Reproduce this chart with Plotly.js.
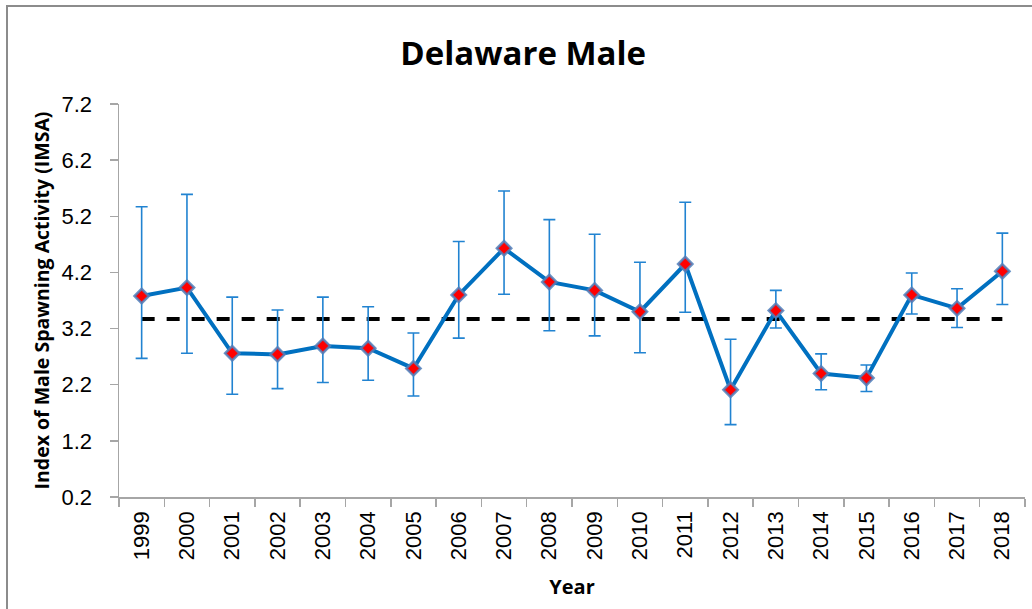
<!DOCTYPE html>
<html>
<head>
<meta charset="utf-8">
<script src="https://cdn.plot.ly/plotly-3.0.1.min.js"></script>
<style>
  html, body { margin: 0; padding: 0; background: #fff; }
  #wrap { position: relative; width: 1032px; height: 609px; }
  #chart { position: absolute; left: 0; top: 0; width: 1032px; height: 609px; }
  #frame { position: absolute; left: 6px; top: 5px; width: 1040px; height: 620px;
           border-left: 2.5px solid #8c8c8c; border-top: 2.5px solid #8c8c8c; pointer-events: none; }
</style>
</head>
<body>
<div id="wrap">
  <div id="chart"></div>
  <div id="frame"></div>
</div>
<script>
const years = ["1999","2000","2001","2002","2003","2004","2005","2006","2007","2008",
               "2009","2010","2011","2012","2013","2014","2015","2016","2017","2018"];
const imsa  = [3.78, 3.93, 2.76, 2.74, 2.89, 2.85, 2.49, 3.80, 4.63, 4.03,
               3.88, 3.50, 4.35, 2.11, 3.52, 2.40, 2.32, 3.80, 3.56, 4.22];
const upper = [5.37, 5.59, 3.76, 3.53, 3.76, 3.59, 3.12, 4.75, 5.65, 5.14,
               4.88, 4.38, 5.45, 3.01, 3.88, 2.75, 2.55, 4.19, 3.91, 4.90];
const lower = [2.67, 2.76, 2.03, 2.13, 2.24, 2.28, 2.00, 3.03, 3.81, 3.16,
               3.07, 2.77, 3.49, 1.49, 3.21, 2.11, 2.08, 3.46, 3.22, 3.63];
const meanValue = 3.37;
const meanLine = years.map(() => meanValue);

const errPlus = imsa.map((v, i) => upper[i] - v);
const errMinus = imsa.map((v, i) => v - lower[i]);

const traces = [
  {
    x: years, y: meanLine, type: "scatter", mode: "lines",
    line: { color: "#000000", width: 4, dash: "13px,12px" },
    hoverinfo: "skip", showlegend: false
  },
  {
    x: years, y: imsa, type: "scatter", mode: "lines+markers",
    line: { color: "#0070C0", width: 4 },
    marker: { symbol: "diamond", size: 11, color: "#FF0000",
              line: { color: "rgba(79,129,189,0.85)", width: 2.5 } },
    error_y: { type: "data", symmetric: false, array: errPlus, arrayminus: errMinus,
               color: "#2183D1", thickness: 1.6, width: 6 },
    showlegend: false
  }
];

const layout = {
  width: 1032, height: 609,
  margin: { l: 119, r: 7, t: 104, b: 112 },
  paper_bgcolor: "#ffffff", plot_bgcolor: "#ffffff",
  showlegend: false,
  title: {
    text: "<b>Delaware Male</b>",
    font: { family: "Open Sans, Liberation Sans, sans-serif", size: 33, color: "#000" },
    x: 0.507, xanchor: "center", y: 0.912, yanchor: "middle"
  },
  xaxis: {
    type: "category",
    range: [-0.5, 19.5],
    tickson: "boundaries",
    ticks: "outside", ticklen: 8, tickwidth: 1.5, tickcolor: "#A6A6A6",
    showline: true, linecolor: "#A6A6A6", linewidth: 1.5,
    showgrid: false, zeroline: false,
    tickangle: -90,
    ticklabelstandoff: 4,
    tickfont: { family: "Liberation Sans, Arial, sans-serif", size: 22, color: "#000" },
    title: { text: "<b>Year</b>", standoff: 20,
             font: { family: "Open Sans, Liberation Sans, sans-serif", size: 20, color: "#000" } },
    automargin: false, fixedrange: true
  },
  yaxis: {
    range: [0.2, 7.2], tick0: 0.2, dtick: 1, tickformat: ".1f",
    ticks: "outside", ticklen: 8, tickwidth: 1.5, tickcolor: "#A6A6A6",
    showline: true, linecolor: "#A6A6A6", linewidth: 1.5,
    showgrid: false, zeroline: false,
    ticklabelstandoff: 13,
    tickfont: { family: "Liberation Sans, Arial, sans-serif", size: 22, color: "#000" },
    title: { text: "<b>Index of Male Spawning Activity (IMSA)</b>", standoff: 6,
             font: { family: "Open Sans, Liberation Sans, sans-serif", size: 19.5, color: "#000" } },
    automargin: false, fixedrange: true
  }
};

Plotly.newPlot("chart", traces, layout, { staticPlot: true, displayModeBar: false });
</script>
</body>
</html>
